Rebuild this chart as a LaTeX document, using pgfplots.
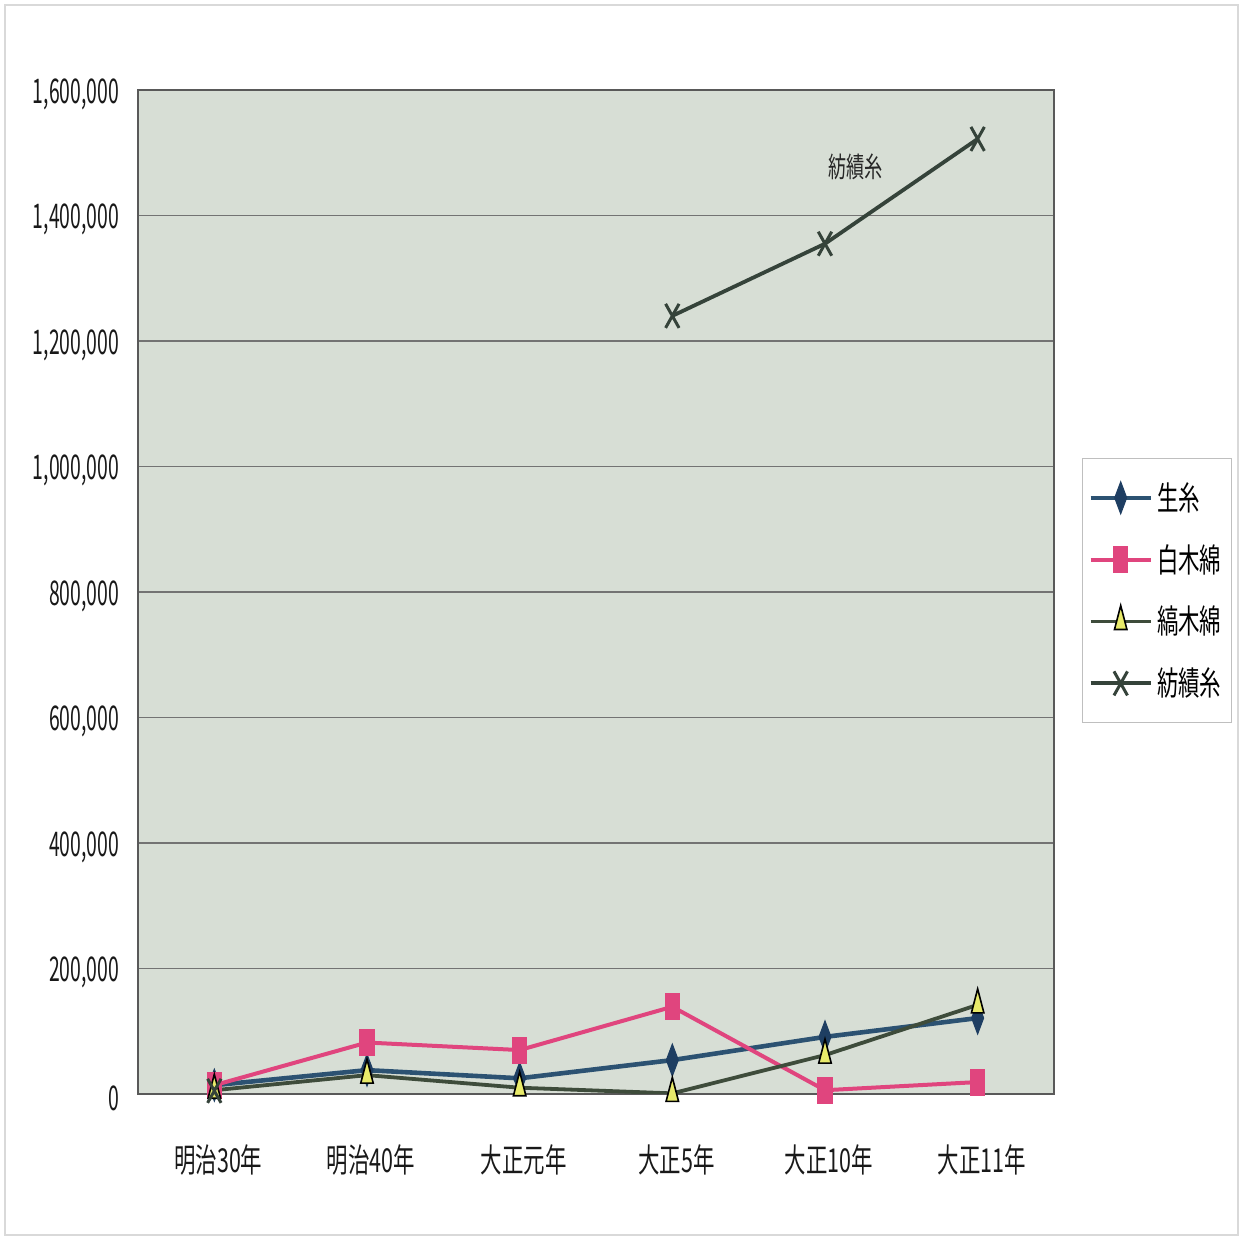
\documentclass[border=0pt]{standalone}
\usepackage{pgfplots}
\pgfplotsset{compat=1.18}
\usepackage{fontspec}
\setmainfont{Noto Sans CJK JP}[FakeStretch=0.65]
\newfontfamily\numfont{Noto Sans CJK JP}[FakeStretch=0.57]
\definecolor{bgc}{HTML}{D7DED5}
\definecolor{sblue}{HTML}{2C5272}
\definecolor{sbluem}{HTML}{1E3E62}
\definecolor{spink}{HTML}{E0457E}
\definecolor{solive}{HTML}{3E4C3B}
\definecolor{syel}{HTML}{E8EA6A}
\definecolor{sx}{HTML}{35433A}
\begin{document}
\begin{tikzpicture}
\path[draw=gray!30, line width=0.6pt] (-66.5pt,-70.5pt) rectangle (550pt,544.5pt);
\path (-69pt,-73pt) rectangle (552.5pt,547pt);
\begin{axis}[
  at={(0,0)}, anchor=south west, scale only axis,
  width=458pt, height=502pt,
  xmin=-0.5, xmax=5.5, ymin=0, ymax=1600000,
  xtick={0,1,2,3,4,5},
  xticklabels={明治30年,明治40年,大正元年,大正5年,大正10年,大正11年},
  ytick={0,200000,400000,600000,800000,1000000,1200000,1400000,1600000},
  scaled y ticks=false,
  /pgf/number format/.cd, fixed, 1000 sep={,}, assume math mode=true,
  /pgfplots/.cd,
  tick style={draw=none},
  ymajorgrids,
  grid style={color=black!55, line width=0.6pt},
  axis background/.style={fill=bgc},
  axis line style={color=black!65, line width=1pt},
  ticklabel style={font=\fontsize{16.5}{18}\selectfont, color=black!90},
  yticklabel style={xshift=-6pt, yshift=-2pt, font=\numfont\fontsize{17}{18}\selectfont},
  xticklabel style={yshift=-22pt, xshift=2pt},
  unbounded coords=jump,
  legend style={at={(1.0306,0.6335)}, anchor=north west, draw=gray!50, fill=white,
    font=\fontsize{16.5}{18}\selectfont, row sep=11.5pt, inner xsep=3pt, inner ysep=10pt,
    cells={anchor=west}},
  legend image code/.code={\draw[mark repeat=2,mark phase=2] plot coordinates {(0pt,0pt)(15pt,0pt)(30pt,0pt)};},
]
\addplot[color=sblue, line width=2.3pt, mark=diamond*, mark size=8pt,
  mark options={xscale=0.5, fill=sbluem, draw=sbluem, line width=0.5pt}]
  coordinates {(0,14000) (1,38000) (2,25000) (3,54000) (4,91000) (5,121000)};
\addlegendentry{生糸}
\addplot[color=spink, line width=2pt, mark=square*, mark size=6.5pt,
  mark options={xscale=0.55, fill=spink, draw=spink, line width=0.5pt}]
  coordinates {(0,14000) (1,82000) (2,70000) (3,139000) (4,6000) (5,19000)};
\addlegendentry{白木綿}
\addplot[color=solive, line width=1.9pt, mark=triangle*, mark size=8pt,
  mark options={xscale=0.45, fill=syel, draw=black, line width=0.8pt}]
  coordinates {(0,6000) (1,30000) (2,10000) (3,1000) (4,62000) (5,142000)};
\addlegendentry{縞木綿}
\addplot[color=sx, line width=1.9pt, mark=x, mark size=8.5pt,
  mark options={xscale=0.56, line width=1.5pt}]
  coordinates {(0,5000) (1,nan) (2,nan) (3,1240000) (4,1355000) (5,1522000)};
\addlegendentry{紡績糸}
\node[font=\fontsize{14}{16}\selectfont, color=black!85] at (axis cs:4.2,1477000) {紡績糸};
\end{axis}
\end{tikzpicture}
\end{document}
